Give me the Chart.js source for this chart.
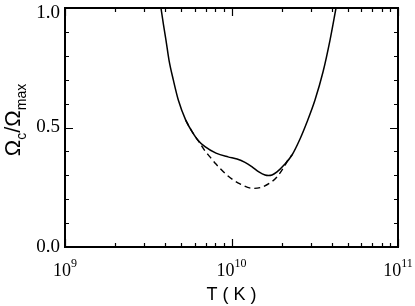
<!DOCTYPE html>
<html><head><meta charset="utf-8">
<script src="https://cdn.jsdelivr.net/npm/chart.js@4"></script>
<style>html,body{margin:0;padding:0;background:#fff}#c{display:block}</style>
</head><body>
<canvas id="c" width="415" height="306"></canvas>
<script>
// Solid curve: T (K) and Omega_c/Omega_max
const solidT = [3.77e9, 3.905e9, 4.04e9, 4.213e9, 4.472e9, 4.792e9, 5.309e9, 5.712e9, 6.266e9, 6.93e9, 8.07e9, 9.53e9, 1.08e10, 1.205e10, 1.33e10, 1.46e10, 1.59e10, 1.668e10, 1.751e10, 1.876e10, 2.067e10, 2.309e10, 2.579e10, 2.841e10, 3.173e10, 3.544e10, 3.906e10, 4.243e10];
const solidY = [1.0, 0.929, 0.866, 0.782, 0.699, 0.615, 0.531, 0.490, 0.448, 0.420, 0.393, 0.377, 0.368, 0.354, 0.335, 0.314, 0.301, 0.299, 0.301, 0.314, 0.343, 0.385, 0.452, 0.523, 0.615, 0.732, 0.866, 1.0];
// Dashed curve
const dashedT = [5.309e9, 5.712e9, 6.266e9, 6.93e9, 7.43e9, 8.07e9, 9.53e9, 1.125e10, 1.35e10, 1.525e10, 1.70e10, 1.876e10, 2.067e10, 2.18e10, 2.309e10];
const dashedY = [0.531, 0.490, 0.448, 0.402, 0.377, 0.347, 0.297, 0.264, 0.245, 0.251, 0.268, 0.293, 0.335, 0.363, 0.385];
// Axis ticks
const xDecades = [1e9, 1e10, 1e11];
const xTickBase = ['10', '10', '10'];
const xTickExp = ['9', '10', '11'];
const yTicks = [0, 0.5, 1.0];
const yTickLabels = ['0.0', '0.5', '1.0'];
const yMinorTicks = [0.1, 0.2, 0.3, 0.4, 0.6, 0.7, 0.8, 0.9];
const xMinorMult = [2, 3, 4, 5, 6, 7, 8, 9];

const frame = {
  id: 'frame',
  afterDraw(chart) {
    const { ctx, chartArea: a, scales: { x, y } } = chart;
    ctx.save();
    ctx.strokeStyle = '#000';
    ctx.lineWidth = 2;
    ctx.strokeRect(a.left, a.top, a.right - a.left, a.bottom - a.top);
    ctx.lineWidth = 1.2;
    ctx.beginPath();
    const yt = (v, len) => {
      const p = Math.round(y.getPixelForValue(v)) + 0.5;
      ctx.moveTo(a.left, p); ctx.lineTo(a.left + len, p);
      ctx.moveTo(a.right, p); ctx.lineTo(a.right - len, p);
    };
    yTicks.forEach(v => yt(v, 8));
    yMinorTicks.forEach(v => yt(v, 4));
    const xt = (v, len) => {
      const p = Math.round(x.getPixelForValue(v)) + 0.5;
      ctx.moveTo(p, a.bottom); ctx.lineTo(p, a.bottom - len);
      ctx.moveTo(p, a.top); ctx.lineTo(p, a.top + len);
    };
    xDecades.forEach(v => xt(v, 8));
    xDecades.slice(0, -1).forEach(d => xMinorMult.forEach(m => xt(m * d, 4)));
    ctx.stroke();
    ctx.fillStyle = '#000';
    // y tick labels
    ctx.font = '19px "Liberation Serif"';
    ctx.textAlign = 'right';
    ctx.textBaseline = 'middle';
    yTicks.forEach((v, i) => {
      const py = Math.max(y.getPixelForValue(v), a.top + 5);
      ctx.fillText(yTickLabels[i], a.left - 5, py);
    });
    // x tick labels with superscripts
    ctx.textBaseline = 'alphabetic';
    ctx.textAlign = 'left';
    xDecades.forEach((v, i) => {
      const px = x.getPixelForValue(v);
      ctx.font = '18px "Liberation Serif"';
      const wb = ctx.measureText(xTickBase[i]).width;
      ctx.font = '12px "Liberation Serif"';
      const we = ctx.measureText(xTickExp[i]).width;
      const s = px - (wb + we) / 2;
      ctx.font = '18px "Liberation Serif"';
      ctx.fillText(xTickBase[i], s, 276);
      ctx.font = '12px "Liberation Serif"';
      ctx.fillText(xTickExp[i], s + wb, 267);
    });
    // y title
    ctx.translate(20, 120);
    ctx.rotate(-Math.PI / 2);
    const parts = [['\u03A9', 22, 0], ['c', 14, 6], ['/\u03A9', 22, 0], ['max', 14, 6]];
    let tot = 0;
    parts.forEach(p => { ctx.font = p[1] + 'px "Liberation Sans"'; tot += ctx.measureText(p[0]).width; });
    let cx = -tot / 2;
    parts.forEach(p => {
      ctx.font = p[1] + 'px "Liberation Sans"';
      ctx.fillText(p[0], cx, p[2]);
      cx += ctx.measureText(p[0]).width;
    });
    ctx.restore();
  }
};

new Chart(document.getElementById('c').getContext('2d'), {
  type: 'line',
  data: {
    datasets: [
      { data: solidT.map((t, i) => ({ x: t, y: solidY[i] })), borderColor: '#000', borderWidth: 1.5,
        pointRadius: 0, cubicInterpolationMode: 'monotone', fill: false },
      { data: dashedT.map((t, i) => ({ x: t, y: dashedY[i] })), borderColor: '#000', borderWidth: 1.4,
        borderDash: [6, 4], pointRadius: 0, cubicInterpolationMode: 'monotone', fill: false }
    ]
  },
  options: {
    responsive: false, animation: false, devicePixelRatio: 1,
    layout: { padding: { top: 8, right: 17, left: 0, bottom: 0 } },
    plugins: { legend: { display: false }, tooltip: { enabled: false } },
    scales: {
      x: {
        type: 'logarithmic', min: 1e9, max: 1e11,
        grid: { display: false }, border: { display: false },
        ticks: { display: false },
        afterBuildTicks: s => { s.ticks = xDecades.map(v => ({ value: v })); },
        afterFit: s => { s.height = 59; },
        title: { display: true, text: 'T ( K )', color: '#000',
          font: { family: 'Liberation Sans', size: 18 }, padding: { top: 0, bottom: 0 } }
      },
      y: {
        min: 0, max: 1,
        grid: { display: false }, border: { display: false },
        ticks: { display: false },
        afterBuildTicks: s => { s.ticks = yTicks.map(v => ({ value: v })); },
        afterFit: s => { s.width = 65; }
      }
    }
  },
  plugins: [frame]
});
</script>
</body></html>
